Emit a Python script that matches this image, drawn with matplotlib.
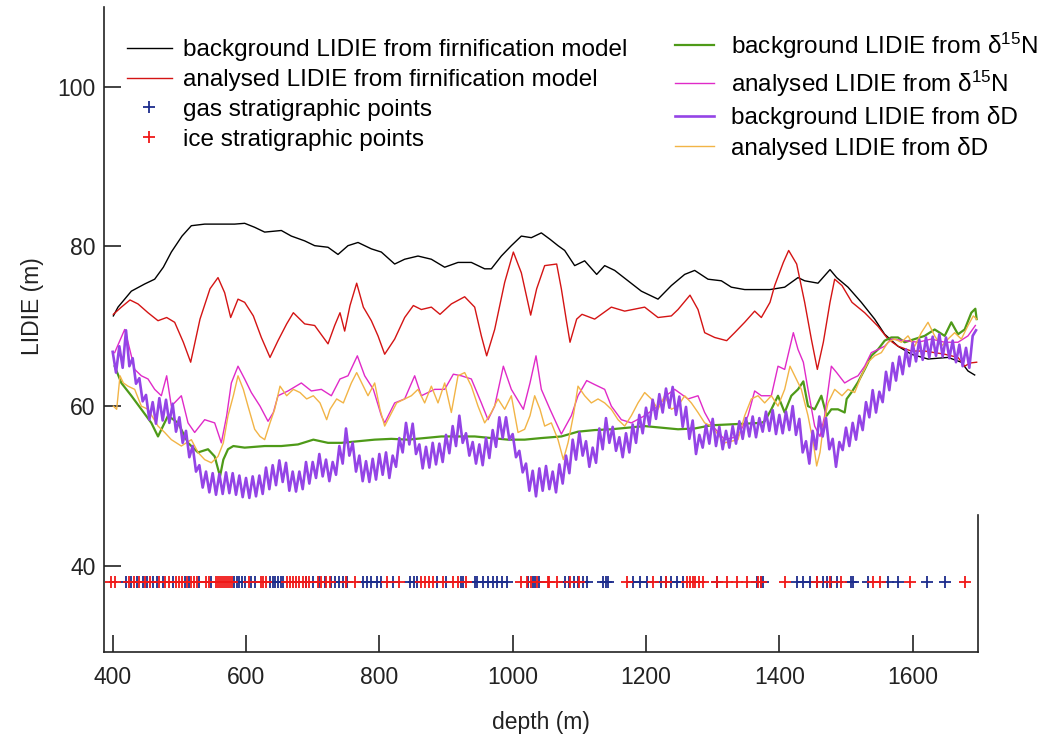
import matplotlib
matplotlib.use("Agg")
import matplotlib.pyplot as plt

plt.rcParams['font.family'] = ['Liberation Sans', 'DejaVu Sans']
plt.rcParams['mathtext.fontset'] = 'custom'
plt.rcParams['mathtext.rm'] = 'Liberation Sans'
plt.rcParams['mathtext.it'] = 'Liberation Sans:italic'

# ---------------- data ----------------
bg_firn_depth = [401, 408, 418, 428, 448, 463, 476, 488, 504, 518, 538, 563, 583, 598, 613, 628, 653, 668, 688, 703,
                 723, 738, 753, 768, 788, 803, 823, 838, 858, 878, 898, 918, 938, 958, 968, 983, 998, 1013, 1028, 1043,
                 1056, 1068, 1078, 1093, 1108, 1126, 1138, 1153, 1173, 1193, 1218, 1238, 1258, 1273, 1293, 1313, 1328,
                 1348, 1386, 1408, 1428, 1438, 1458, 1476, 1486, 1503, 1523, 1543, 1558, 1578, 1598, 1623, 1653, 1673,
                 1683, 1693]
bg_firn = [71.3, 72.4, 73.4, 74.4, 75.3, 75.9, 77.4, 79.3, 81.3, 82.6, 82.8, 82.8, 82.8, 82.9, 82.4, 81.8, 82.0, 81.3,
           80.7, 80.1, 79.9, 79.0, 80.1, 80.5, 79.7, 79.3, 77.8, 78.4, 78.8, 78.4, 77.4, 78.0, 78.0, 77.2, 77.2, 78.8,
           80.1, 81.3, 81.1, 81.7, 80.9, 80.1, 79.5, 77.6, 78.2, 76.5, 77.6, 77.0, 75.7, 74.4, 73.4, 75.1, 76.5, 77.0,
           75.9, 75.7, 74.9, 74.6, 74.6, 74.9, 76.1, 75.7, 75.4, 77.1, 76.1, 74.9, 73.0, 70.9, 69.0, 67.5, 66.5, 65.9,
           66.1, 65.5, 64.4, 63.9]

an_firn_depth = [401, 413, 426, 438, 453, 468, 481, 493, 506, 517, 531, 546, 558, 568, 577, 588, 598, 611, 623, 636,
                 648, 661, 671, 688, 703, 723, 733, 741, 748, 756, 766, 776, 788, 798, 808, 823, 838, 851, 863, 878,
                 891, 908, 928, 943, 953, 961, 973, 988, 1001, 1013, 1027, 1036, 1048, 1066, 1073, 1081, 1086, 1096,
                 1104, 1123, 1148, 1168, 1198, 1218, 1238, 1248, 1266, 1278, 1288, 1303, 1321, 1333, 1348, 1363, 1373,
                 1386, 1393, 1406, 1414, 1426, 1438, 1448, 1457, 1466, 1476, 1483, 1494, 1509, 1528, 1548, 1563, 1578,
                 1598, 1618, 1648, 1668, 1678, 1686, 1696]
an_firn = [71.5, 72.4, 73.3, 72.8, 71.7, 70.7, 71.1, 70.5, 68.0, 65.5, 70.9, 74.7, 76.1, 74.2, 71.1, 73.4, 73.0, 71.3,
           68.6, 66.1, 68.2, 70.3, 71.7, 70.3, 70.1, 67.8, 70.1, 71.7, 69.4, 72.6, 75.4, 72.4, 70.7, 68.8, 66.5, 68.4,
           71.1, 72.6, 72.1, 72.4, 71.5, 72.8, 73.7, 72.4, 68.8, 66.3, 69.6, 75.5, 79.3, 76.7, 71.4, 74.7, 77.6, 77.8,
           74.7, 70.5, 68.0, 70.9, 71.5, 70.9, 72.4, 71.9, 72.4, 71.1, 71.3, 72.1, 73.9, 72.1, 69.2, 68.6, 68.2, 69.2,
           70.5, 71.9, 71.1, 73.0, 75.1, 78.0, 79.5, 77.8, 73.0, 68.4, 64.6, 68.0, 73.0, 75.9, 75.1, 73.0, 71.7, 70.0,
           68.4, 67.5, 66.9, 66.9, 66.5, 66.1, 65.0, 65.4, 65.5]

bg_n15_depth = [403, 413, 428, 443, 458, 468, 483, 498, 513, 528, 543, 553, 561, 566, 573, 581, 598, 628, 653, 678,
                701, 723, 743, 768, 793, 818, 843, 868, 893, 918, 943, 968, 993, 1018, 1043, 1073, 1098, 1123, 1148,
                1173, 1198, 1223, 1248, 1273, 1298, 1323, 1348, 1373, 1378, 1388, 1398, 1408, 1418, 1428, 1436, 1443,
                1453, 1463, 1471, 1478, 1488, 1498, 1501, 1508, 1518, 1528, 1538, 1548, 1558, 1568, 1578, 1588, 1603,
                1618, 1633, 1648, 1658, 1668, 1678, 1688, 1694, 1696]
bg_n15 = [65.0, 62.9, 61.3, 59.6, 57.9, 56.2, 58.8, 57.9, 55.4, 54.2, 54.6, 53.7, 51.2, 53.3, 54.6, 55.0, 54.8, 55.0,
          55.0, 55.2, 55.8, 55.4, 55.4, 55.6, 55.8, 55.9, 55.8, 56.0, 56.2, 56.2, 56.2, 56.0, 55.8, 55.8, 56.0, 56.2,
          56.8, 57.0, 57.1, 57.3, 57.5, 57.3, 57.1, 57.2, 57.6, 57.7, 57.8, 57.9, 58.1, 59.6, 61.3, 59.2, 61.3, 62.1,
          63.1, 60.0, 59.6, 61.3, 58.8, 59.6, 59.6, 59.2, 60.9, 61.7, 63.0, 64.6, 66.3, 67.1, 68.2, 68.6, 68.6, 68.0,
          68.4, 68.8, 69.6, 68.8, 70.5, 69.0, 69.6, 71.7, 72.2, 70.9]

an_n15_depth = [403, 418, 423, 433, 443, 453, 463, 473, 481, 488, 503, 513, 523, 538, 553, 563, 571, 578, 588, 598,
                608, 621, 633, 641, 648, 663, 683, 698, 713, 728, 741, 753, 767, 778, 791, 803, 808, 823, 838, 853,
                863, 883, 898, 911, 923, 938, 953, 963, 973, 986, 998, 1016, 1026, 1035, 1043, 1056, 1073, 1088, 1098,
                1111, 1123, 1138, 1148, 1163, 1178, 1198, 1218, 1233, 1243, 1263, 1278, 1288, 1298, 1318, 1338, 1353,
                1363, 1373, 1388, 1398, 1408, 1421, 1428, 1436, 1443, 1453, 1461, 1468, 1478, 1486, 1498, 1508, 1518,
                1528, 1538, 1548, 1558, 1568, 1588, 1608, 1628, 1648, 1668, 1683, 1694]
an_n15 = [66.7, 69.6, 68.0, 64.6, 63.8, 63.4, 62.1, 61.3, 63.8, 60.0, 61.3, 57.9, 56.7, 58.3, 57.9, 55.4, 58.8, 62.9,
          65.0, 63.4, 61.7, 60.0, 58.1, 59.2, 61.3, 61.9, 62.9, 61.9, 62.1, 61.3, 63.4, 63.8, 66.3, 63.8, 62.1, 58.8,
          57.9, 60.4, 60.9, 63.8, 61.3, 62.1, 62.1, 64.0, 63.8, 63.4, 60.4, 58.3, 60.0, 65.0, 62.1, 59.6, 62.9, 66.3,
          62.1, 59.6, 56.5, 58.8, 61.3, 63.2, 62.7, 62.1, 60.0, 58.3, 57.9, 58.8, 60.0, 61.5, 62.1, 60.9, 61.3, 59.2,
          57.7, 55.8, 56.2, 58.8, 61.9, 61.3, 61.3, 65.0, 64.6, 69.2, 67.1, 65.5, 62.1, 57.5, 56.2, 58.8, 65.0, 64.2,
          62.9, 63.4, 63.8, 65.0, 66.7, 67.1, 67.5, 68.4, 68.2, 68.0, 68.4, 68.0, 68.0, 68.8, 70.1]

bg_dD_depth = list(range(400, 1700, 5))
bg_dD = [66.8, 64.2, 67.5, 64.8, 69.5, 65.0, 66.0, 62.8, 63.5, 60.6,
         61.4, 58.3, 60.5, 57.8, 61.0, 58.2, 60.8, 57.9, 60.3, 56.8,
         58.6, 55.4, 56.9, 53.6, 55.0, 51.8, 52.6, 49.8, 51.8, 49.2,
         51.6, 48.9, 51.5, 49.0, 51.7, 49.1, 51.6, 48.9, 51.3, 48.6,
         51.0, 48.5, 51.2, 48.7, 51.3, 49.0, 52.3, 49.6, 52.6, 50.1,
         53.2, 50.5, 52.9, 49.4, 51.8, 49.3, 51.8, 49.6, 53.0, 50.3,
         53.0, 51.0, 54.0, 51.2, 53.3, 50.6, 53.0, 51.4, 55.0, 52.8,
         57.2, 53.8, 55.4, 51.8, 53.8, 50.6, 53.1, 50.5, 53.4, 50.8,
         54.0, 51.4, 54.2, 51.0, 53.8, 52.4, 56.0, 54.2, 57.9, 55.2,
         57.8, 54.0, 55.2, 52.2, 54.9, 52.3, 55.4, 52.7, 55.3, 53.0,
         56.4, 54.1, 57.5, 55.0, 58.8, 55.4, 56.6, 53.8, 55.5, 52.8,
         55.2, 52.6, 56.0, 53.5, 57.0, 54.9, 58.6, 56.0, 58.6, 55.8,
         56.5, 53.6, 54.4, 51.7, 52.8, 49.4, 51.9, 48.7, 52.2, 49.4,
         52.5, 49.6, 51.8, 49.2, 52.7, 50.3, 53.8, 51.6, 55.8, 53.3,
         56.7, 53.8, 55.6, 52.4, 54.8, 52.9, 57.2, 54.6, 58.5, 55.4,
         57.4, 54.4, 56.1, 53.6, 56.6, 54.2, 57.7, 55.4, 58.9, 56.6,
         59.8, 57.6, 60.8, 58.4, 61.5, 59.2, 62.2, 59.8, 62.4, 58.9,
         61.2, 57.4, 59.9, 55.9, 58.2, 54.0, 56.4, 54.8, 57.6, 55.3,
         58.4, 55.0, 57.4, 54.6, 56.9, 54.8, 57.5, 55.3, 58.1, 55.9,
         58.5, 56.2, 58.7, 56.1, 58.5, 56.8, 59.3, 56.9, 59.5, 56.5,
         58.9, 56.6, 59.3, 57.0, 60.0, 56.4, 58.4, 54.2, 55.6, 52.8,
         56.9, 54.6, 58.7, 56.2, 58.5, 54.6, 55.9, 52.4, 55.5, 54.5,
         57.3, 55.0, 57.9, 55.8, 58.8, 57.0, 60.5, 58.6, 62.0, 59.2,
         61.8, 60.5, 64.3, 62.0, 65.4, 63.2, 66.2, 64.0, 67.1, 65.0,
         67.9, 65.6, 68.3, 65.8, 68.6, 66.1, 68.7, 66.3, 69.0, 66.2,
         68.6, 66.0, 68.2, 65.5, 67.7, 65.0, 67.3, 64.8, 68.8, 69.5]

an_dD_depth = [401, 406, 411, 416, 423, 433, 443, 453, 468, 478, 488, 503, 518, 528, 538, 548, 558, 566, 573, 581,
               588, 596, 603, 613, 621, 628, 636, 643, 651, 661, 671, 681, 691, 701, 711, 721, 726, 736, 746, 758,
               766, 776, 783, 793, 801, 808, 816, 826, 838, 848, 858, 868, 878, 888, 898, 908, 918, 928, 938, 948,
               958, 968, 978, 988, 998, 1008, 1018, 1026, 1033, 1041, 1048, 1058, 1068, 1076, 1083, 1091, 1098, 1108,
               1118, 1128, 1138, 1148, 1158, 1168, 1178, 1188, 1198, 1208, 1218, 1228, 1238, 1248, 1258, 1268, 1278,
               1288, 1298, 1318, 1338, 1348, 1358, 1368, 1378, 1388, 1398, 1408, 1416, 1423, 1433, 1443, 1451, 1456,
               1461, 1466, 1473, 1483, 1494, 1503, 1513, 1523, 1533, 1543, 1553, 1563, 1573, 1583, 1593, 1603, 1613,
               1623, 1633, 1643, 1653, 1663, 1673, 1683, 1691, 1696]
an_dD = [60.0, 59.6, 63.8, 62.9, 62.5, 62.1, 60.0, 59.6, 57.5, 56.7, 55.8, 55.0, 55.8, 54.2, 53.3, 52.9, 53.7, 55.4,
         58.8, 61.3, 63.8, 62.1, 60.0, 57.1, 56.2, 55.8, 57.9, 59.6, 62.5, 61.3, 62.1, 61.7, 60.9, 61.3, 60.4, 58.3,
         59.6, 60.9, 60.4, 62.9, 64.2, 62.5, 61.3, 62.9, 59.6, 57.5, 58.8, 60.4, 60.9, 61.3, 62.1, 60.4, 62.5, 60.4,
         62.9, 59.2, 63.8, 64.2, 62.5, 60.0, 57.9, 59.2, 60.9, 59.6, 61.3, 56.7, 57.1, 58.8, 61.3, 59.6, 57.5, 57.9,
         55.8, 53.3, 55.4, 58.8, 62.5, 61.3, 60.4, 60.9, 60.4, 59.6, 58.3, 57.5, 58.8, 60.4, 61.7, 60.9, 59.6, 61.3,
         59.6, 60.0, 61.3, 60.4, 59.2, 57.9, 57.5, 55.4, 55.8, 58.8, 60.9, 61.3, 60.4, 61.3, 60.0, 62.1, 65.0, 63.8,
         62.1, 58.8, 55.4, 52.5, 54.2, 57.5, 60.4, 62.1, 61.3, 62.1, 61.7, 63.8, 65.5, 66.3, 66.7, 68.0, 68.4, 68.0,
         68.8, 67.5, 69.2, 70.5, 68.8, 67.5, 68.4, 69.2, 68.4, 70.1, 71.3, 70.9]

gas_depth = [420, 428, 436, 445, 452, 460, 466, 475, 490, 508, 515, 530, 548, 582, 586, 590, 594, 598, 608, 614,
             636, 640, 644, 648, 652, 656, 690, 700, 710, 718, 728, 734, 740, 746, 752, 776, 781, 788, 796, 803,
             820, 846, 852, 856, 886, 900, 923, 926, 943, 946, 956, 963, 970, 977, 984, 991, 1023, 1030, 1034,
             1040, 1078, 1085, 1092, 1098, 1106, 1112, 1136, 1140, 1143, 1181, 1191, 1201, 1223, 1230, 1237, 1246,
             1255, 1306, 1366, 1372, 1376, 1426, 1436, 1446, 1456, 1466, 1472, 1478, 1486, 1508, 1510, 1533, 1563,
             1578, 1621, 1648]
ice_depth = [398, 404, 424, 432, 440, 448, 456, 470, 478, 484, 495, 500, 504, 512, 518, 522, 526, 540, 545, 555,
             558, 561, 564, 567, 570, 573, 576, 579, 604, 622, 626, 630, 662, 666, 670, 675, 680, 685, 690, 695,
             708, 713, 720, 726, 750, 763, 812, 830, 862, 868, 874, 880, 895, 910, 918, 930, 1013, 1021, 1028,
             1036, 1053, 1055, 1066, 1086, 1100, 1171, 1211, 1230, 1261, 1266, 1270, 1274, 1280, 1286, 1306, 1321,
             1336, 1351, 1368, 1372, 1408, 1456, 1476, 1493, 1541, 1551, 1596, 1678]
strat_level = 38.0

labels_left = ["background LIDIE from firnification model", "analysed LIDIE from firnification model",
               "gas stratigraphic points", "ice stratigraphic points"]
labels_right = ["background LIDIE from δ$^{15}$N", "analysed LIDIE from δ$^{15}$N",
                "background LIDIE from δD", "analysed LIDIE from δD"]

# ---------------- figure ----------------
fig = plt.figure(figsize=(10.38, 7.42), dpi=100)
ax = fig.add_axes([0.1002, 0.1213, 0.8420, 0.8693])

l_bgf, = ax.plot(bg_firn_depth, bg_firn, color='black', lw=1.0)
l_anf, = ax.plot(an_firn_depth, an_firn, color='#d41414', lw=1.0)
l_bgn, = ax.plot(bg_n15_depth, bg_n15, color='#4e9a18', lw=1.6)
l_ann, = ax.plot(an_n15_depth, an_n15, color='#e02ac8', lw=1.0)
l_and, = ax.plot(an_dD_depth, an_dD, color='#f2b446', lw=1.0)
l_bgd, = ax.plot(bg_dD_depth, bg_dD, color='#9444e6', lw=1.9)
l_gas, = ax.plot(gas_depth, [strat_level] * len(gas_depth), ls='none', marker='+',
                 ms=9, mew=1.3, color='#1c2c8c')
l_ice, = ax.plot(ice_depth, [strat_level] * len(ice_depth), ls='none', marker='+',
                 ms=9, mew=1.3, color='#f01818')

ax.set_xlim(387, 1698)
ax.set_ylim(29.2, 110)
ax.set_xticks([400, 600, 800, 1000, 1200, 1400, 1600])
ax.set_yticks([40, 60, 80, 100])
ax.tick_params(direction='in', length=12, width=1.2, labelsize=16.5, colors='#222222')
ax.tick_params(axis='x', pad=10)
ax.tick_params(axis='y', pad=6)
ax.spines['top'].set_visible(False)
ax.spines['right'].set_bounds(29.2, 46.4)
for s in ax.spines.values():
    s.set_linewidth(1.2)
    s.set_color('#222222')

ax.set_xlabel('depth (m)', fontsize=16.5, color='#222222', labelpad=16)
ax.set_ylabel('LIDIE (m)', fontsize=16.5, color='#222222')
ax.yaxis.set_label_coords(-0.069, 0.536)

leg1 = ax.legend([l_bgf, l_anf, l_gas, l_ice], labels_left, loc='upper left',
                 bbox_to_anchor=(0.026, 0.950), frameon=False, fontsize=17.5,
                 handlelength=1.85, handletextpad=0.45, labelspacing=0.32, borderpad=0,
                 borderaxespad=0, numpoints=1)
ax.add_artist(leg1)
ax.legend([l_bgn, l_ann, l_bgd, l_and], labels_right, loc='upper left',
          bbox_to_anchor=(0.653, 0.963), frameon=False, fontsize=17.5,
          handlelength=1.6, handletextpad=0.7, labelspacing=0.31, borderpad=0,
          borderaxespad=0)

fig.savefig('out.png', dpi=100)
